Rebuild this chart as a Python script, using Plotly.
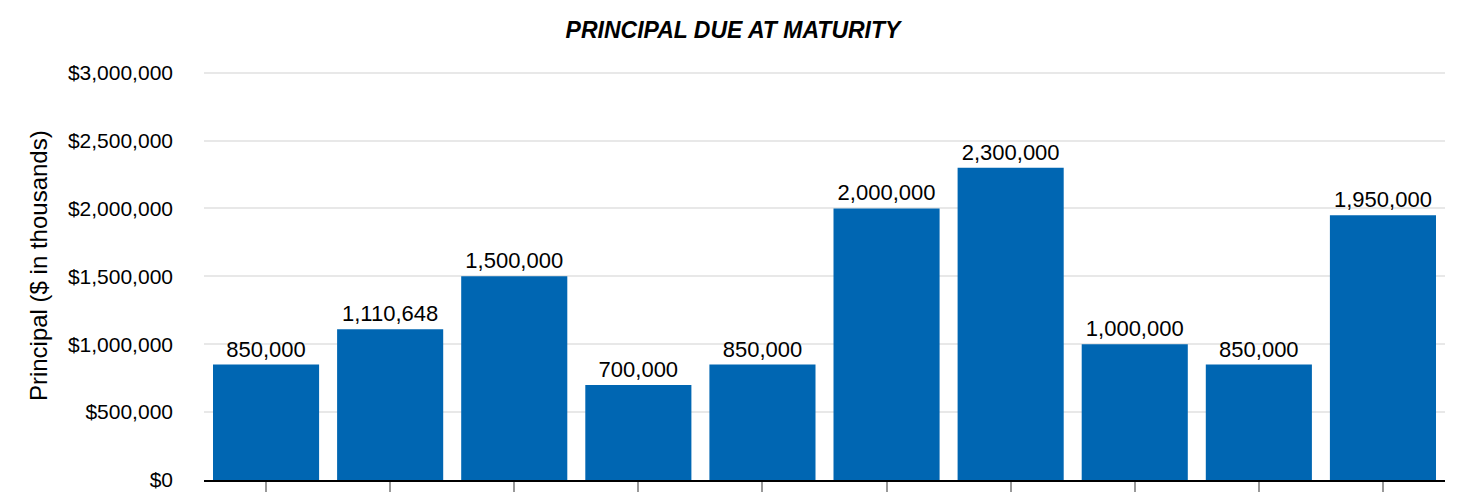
import plotly.graph_objects as go

categories = ["1", "2", "3", "4", "5", "6", "7", "8", "9", "10"]
principal = [850000, 1110648, 1500000, 700000, 850000, 2000000, 2300000, 1000000, 850000, 1950000]
y_ticks = [0, 500000, 1000000, 1500000, 2000000, 2500000, 3000000]
y_tick_labels = ["$0", "$500,000", "$1,000,000", "$1,500,000", "$2,000,000", "$2,500,000", "$3,000,000"]
y_title = "Principal ($ in thousands)"

FONT = "Arial, Liberation Sans, sans-serif"

fig = go.Figure(go.Bar(
    x=categories,
    y=principal,
    marker=dict(color="#0066b2", line=dict(width=0)),
    text=[f"{v:,}" for v in principal],
    textposition="outside",
    textfont=dict(family=FONT, size=22, color="#000"),
    cliponaxis=False,
))

fig.update_layout(
    width=1466, height=492,
    margin=dict(l=204, r=21, t=70, b=12),
    paper_bgcolor="white", plot_bgcolor="white",
    bargap=0.145,
    showlegend=False,
    font=dict(family=FONT, size=22, color="#000"),
    title=dict(text="<b><i>PRINCIPAL DUE AT MATURITY</i></b>", x=0.5, xanchor="center",
               y=0.94, yanchor="middle", font=dict(size=23, color="#000")),
    uniformtext=dict(mode=False),
    annotations=[dict(
        text=y_title, xref="paper", yref="paper", x=-0.1338, y=0.524,
        xanchor="center", yanchor="middle", textangle=-90, showarrow=False,
        font=dict(family=FONT, size=24, color="#000"),
    )],
)
fig.update_xaxes(
    showticklabels=False, ticks="outside", ticklen=12, tickcolor="#999", tickwidth=1.5,
    showline=True, linecolor="#000", linewidth=2, showgrid=False, automargin=False,
)
fig.update_yaxes(
    range=[0, 3020000], tickvals=y_ticks, ticktext=y_tick_labels,
    showgrid=True, gridcolor="#e8e8e8", gridwidth=2, zeroline=False,
    ticks="", ticklabelstandoff=30, automargin=False,
    tickfont=dict(size=21),
)

fig.write_html("out.html")
